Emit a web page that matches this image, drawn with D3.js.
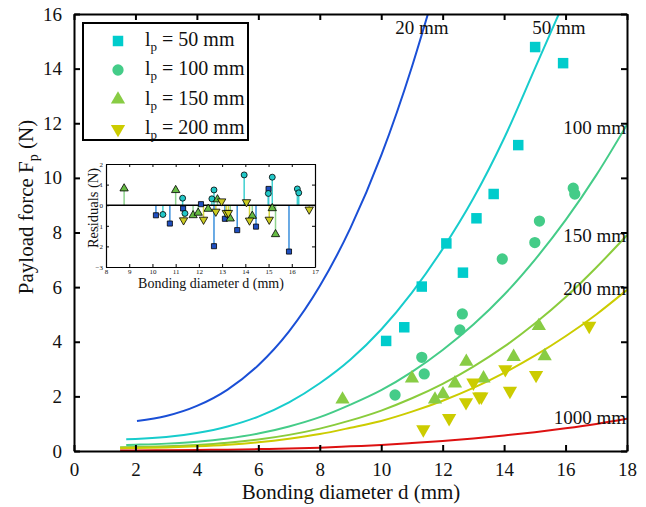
<!DOCTYPE html>
<html><head><meta charset="utf-8">
<script src="https://cdn.jsdelivr.net/npm/d3@7/dist/d3.min.js"></script>
<style>body{margin:0;background:#fff}svg{display:block}text{font-family:"Liberation Serif","Times New Roman",serif;fill:#111}</style>
</head><body><svg id="c" width="646" height="507"></svg>
<script>
// ---------- data ----------
const xTicks = [0,2,4,6,8,10,12,14,16,18];
const yTicks = [0,2,4,6,8,10,12,14,16];
const curveNames = ["20 mm","50 mm","100 mm","150 mm","200 mm","1000 mm"];
const curveColors = ["#1a4fd6","#17cccc","#45cc88","#8acc3c","#cccc00","#dd1111"];
const c20d  = [2.05,3,4,5,6,7,8,9,10,11,11.52];
const c20F  = [1.10,1.28,1.65,2.25,3.14,4.38,6.04,8.17,10.82,14.07,16.0];
const c50d  = [1.7,2,3,4,5,6,7,8,9,10,11,12,13,14,15,15.78];
const c50F  = [0.43,0.44,0.51,0.66,0.90,1.26,1.78,2.48,3.35,4.45,5.8,7.4,9.25,11.45,14.0,16.0];
const c100d = [1.7,2,3,4,5,6,7,8,9,10,11,12,13,14,15,16,17,18];
const c100F = [0.22,0.23,0.27,0.34,0.46,0.64,0.9,1.24,1.7,2.23,2.9,3.7,4.63,5.72,7.0,8.45,10.1,11.95];
const c150d = [1.5,2,3,4,5,6,7,8,9,10,11,12,13,14,15,16,17,18];
const c150F = [0.14,0.15,0.17,0.22,0.30,0.42,0.59,0.82,1.12,1.48,1.93,2.46,3.09,3.82,4.67,5.63,6.72,7.9];
const c200d = [1.5,2,3,4,5,6,7,8,9,10,11,12,13,14,15,16,17,18];
const c200F = [0.105,0.11,0.13,0.17,0.23,0.32,0.45,0.62,0.85,1.1,1.44,1.84,2.31,2.86,3.49,4.2,5.0,5.9];
const c1000d = [1.5,2,3,4,5,6,7,8,9,10,11,12,13,14,15,16,17,18];
const c1000F = [0.02,0.02,0.03,0.04,0.05,0.07,0.09,0.12,0.17,0.22,0.29,0.37,0.46,0.57,0.69,0.83,0.99,1.18];

const legendLabels = ["50 mm","100 mm","150 mm","200 mm"];
const markerColors = ["#00cccc","#44cc88","#88cc44","#cccc00"];
const sq_d  = [10.16,10.75,11.32,12.12,12.66,13.1,13.66,14.46,15.01,15.92];
const sq_F  = [4.03,4.53,6.02,7.6,6.53,8.52,9.41,11.2,14.79,14.2];
const ci_d  = [10.45,11.32,11.4,12.56,12.64,13.94,15.0,15.15,16.25,16.3];
const ci_F  = [2.05,3.43,2.82,4.43,5.02,7.03,7.63,8.42,9.62,9.41];
const tu_d  = [8.74,11.0,11.75,12.01,12.4,12.77,13.33,14.31,15.13,15.32];
const tu_F  = [1.89,2.66,1.89,2.08,2.48,3.27,2.66,3.45,4.58,3.47];
const td_d  = [11.37,12.21,12.76,13.0,13.19,13.26,14.04,14.19,15.04,16.77];
const td_F  = [0.79,1.2,1.78,2.5,1.99,1.99,2.99,2.2,2.78,4.58];

// residuals (inset)
const insetXTicks = [8,9,10,11,12,13,14,15,16,17];
const insetYTicks = [-3,-2,-1,0,1,2];
const rsq_d = [10.15,10.75,11.32,12.09,12.65,13.12,13.65,14.46,15.0,15.88];
const rsq_r = [-0.49,-0.89,-0.16,0.05,-1.99,-0.66,-1.21,-1.04,0.79,-2.25];
const rci_d = [10.45,11.3,11.4,12.56,12.65,13.95,14.99,15.16,16.24,16.3];
const rci_r = [-0.45,0.34,-0.40,0.31,0.74,1.47,0.57,1.36,0.79,0.60];
const rtu_d = [8.78,11.0,11.75,11.97,12.4,12.8,13.35,14.3,15.16,15.3];
const rtu_r = [0.81,0.73,-0.49,-0.37,-0.18,0.28,-0.65,-0.52,-0.15,-1.41];
const rtd_d = [11.34,12.2,12.73,12.98,13.18,13.27,14.05,14.18,15.03,16.75];
const rtd_r = [-0.73,-0.70,-0.31,0.19,-0.37,-0.37,0.15,-0.74,-0.70,-0.21];
const insetStemColors = ["#3a8fdc","#3fd0d0","#8fd48f","#d8d840"];
const insetFillColors = ["#1f4fc0","#22c8c8","#66bb44","#cccc22"];

// ---------- drawing ----------
const svg = d3.select("#c");
const x = d3.scaleLinear().domain([0,18]).range([74,627]);
const y = d3.scaleLinear().domain([0,16]).range([451,14]);

const curves = [[c20d,c20F],[c50d,c50F],[c100d,c100F],[c150d,c150F],[c200d,c200F],[c1000d,c1000F]];
const line = d3.line().x(p=>x(p[0])).y(p=>y(p[1])).curve(d3.curveMonotoneX);
svg.append("clipPath").attr("id","pc").append("rect")
  .attr("x",x(0)).attr("y",y(16)).attr("width",x(18)-x(0)).attr("height",y(0)-y(16));
const gc = svg.append("g").attr("clip-path","url(#pc)");
curves.forEach((c,i)=>{
  gc.append("path").datum(c[0].map((d,j)=>[d,c[1][j]]))
    .attr("d",line).attr("fill","none").attr("stroke",curveColors[i]).attr("stroke-width",2);
});

// data markers
const symTypes = [d3.symbolSquare,d3.symbolCircle,d3.symbolTriangle,d3.symbolTriangle];
const symSizes = [110,100,88,88];
const rot = [0,0,0,180];
const sets = [[sq_d,sq_F],[ci_d,ci_F],[tu_d,tu_F],[td_d,td_F]];
sets.forEach((s,i)=>{
  s[0].forEach((d,j)=>{
    svg.append("path").attr("d",d3.symbol().type(symTypes[i]).size(symSizes[i])())
      .attr("transform",`translate(${x(d)},${y(s[1][j])}) rotate(${rot[i]})`)
      .attr("fill",markerColors[i]);
  });
});

// curve labels
const labelPos = [[422,34,"middle"],[559,34,"middle"],[626,134,"end"],[626,242,"end"],[626,295,"end"],[626,424,"end"]];
curveNames.forEach((n,i)=>{
  svg.append("text").attr("x",labelPos[i][0]).attr("y",labelPos[i][1])
    .attr("text-anchor",labelPos[i][2]).attr("font-size",19).text(n);
});

// axes
function styleAxis(g){
  g.selectAll(".domain").attr("stroke","#000").attr("stroke-width",2);
  g.selectAll(".tick line").attr("stroke","#000").attr("stroke-width",2);
  g.selectAll("text").attr("font-family","Liberation Serif, serif").attr("font-size",19).attr("fill","#111");
}
svg.append("g").attr("transform",`translate(0,${y(0)})`)
  .call(d3.axisBottom(x).tickValues(xTicks).tickSize(-6).tickSizeOuter(0).tickPadding(12).tickFormat(d3.format("d")))
  .call(styleAxis);
svg.append("g").attr("transform",`translate(0,${y(16)})`)
  .call(d3.axisTop(x).tickValues(xTicks).tickSize(-6).tickSizeOuter(0).tickFormat(""))
  .call(styleAxis);
svg.append("g").attr("transform",`translate(${x(0)},0)`)
  .call(d3.axisLeft(y).tickValues(yTicks).tickSize(-6).tickSizeOuter(0).tickPadding(12).tickFormat(d3.format("d")))
  .call(styleAxis);
svg.append("g").attr("transform",`translate(${x(18)},0)`)
  .call(d3.axisRight(y).tickValues(yTicks).tickSize(-6).tickSizeOuter(0).tickFormat(""))
  .call(styleAxis);

// axis titles
svg.append("text").attr("x",351).attr("y",499).attr("text-anchor","middle").attr("font-size",21)
  .text("Bonding diameter d (mm)");
const yl = svg.append("text").attr("transform","translate(33,207) rotate(-90)").attr("text-anchor","middle").attr("font-size",21);
yl.append("tspan").text("Payload force F");
yl.append("tspan").attr("font-size",14).attr("dy",5).text("p");
yl.append("tspan").attr("dy",-5).text(" (N)");

// legend
svg.append("rect").attr("x",83).attr("y",23).attr("width",165).attr("height",117)
  .attr("fill","#fff").attr("stroke","#000").attr("stroke-width",2);
const legY = [41,70,99.5,129];
legendLabels.forEach((l,i)=>{
  svg.append("path").attr("d",d3.symbol().type(symTypes[i]).size(symSizes[i])())
    .attr("transform",`translate(118,${legY[i]}) rotate(${rot[i]})`).attr("fill",markerColors[i]);
  const t = svg.append("text").attr("x",145).attr("y",legY[i]+5).attr("font-size",20);
  t.append("tspan").text("l");
  t.append("tspan").attr("font-size",13).attr("dy",5).text("p");
  t.append("tspan").attr("dy",-5).text(" = "+l);
});

// inset
const ix = d3.scaleLinear().domain([8,17]).range([106,315]);
const iy = d3.scaleLinear().domain([-3,2]).range([267,164]);
svg.append("rect").attr("x",106).attr("y",164).attr("width",209).attr("height",103)
  .attr("fill","#fff");
function styleInset(g){
  g.selectAll(".domain").attr("stroke","#000").attr("stroke-width",1.2);
  g.selectAll(".tick line").attr("stroke","#000").attr("stroke-width",1);
  g.selectAll("text").attr("font-family","Liberation Serif, serif").attr("font-size",7).attr("fill","#111");
}
svg.append("g").attr("transform",`translate(0,${iy(-3)})`)
  .call(d3.axisBottom(ix).tickValues(insetXTicks).tickSize(-3).tickSizeOuter(0).tickPadding(2).tickFormat(d3.format("d")))
  .call(styleInset);
svg.append("g").attr("transform",`translate(0,${iy(2)})`)
  .call(d3.axisTop(ix).tickValues(insetXTicks).tickSize(-3).tickSizeOuter(0).tickFormat(""))
  .call(styleInset);
svg.append("g").attr("transform",`translate(${ix(8)},0)`)
  .call(d3.axisLeft(iy).tickValues(insetYTicks).tickSize(-3).tickSizeOuter(0).tickPadding(3).tickFormat(d3.format("d")))
  .call(styleInset);
svg.append("g").attr("transform",`translate(${ix(17)},0)`)
  .call(d3.axisRight(iy).tickValues(insetYTicks).tickSize(-3).tickSizeOuter(0).tickFormat(""))
  .call(styleInset);

const rsets = [[rsq_d,rsq_r],[rci_d,rci_r],[rtu_d,rtu_r],[rtd_d,rtd_r]];
const isizes = [26,28,30,30];
rsets.forEach((s,i)=>{
  s[0].forEach((d,j)=>{
    svg.append("line").attr("x1",ix(d)).attr("x2",ix(d)).attr("y1",iy(0)).attr("y2",iy(s[1][j]))
      .attr("stroke",insetStemColors[i]).attr("stroke-width",1.5);
  });
});
svg.append("line").attr("x1",ix(8)).attr("x2",ix(17)).attr("y1",iy(0)).attr("y2",iy(0))
  .attr("stroke","#000").attr("stroke-width",1.5);
rsets.forEach((s,i)=>{
  s[0].forEach((d,j)=>{
    svg.append("path").attr("d",d3.symbol().type(symTypes[i]).size(isizes[i])())
      .attr("transform",`translate(${ix(d)},${iy(s[1][j])}) rotate(${rot[i]})`)
      .attr("fill",insetFillColors[i]).attr("stroke","#000").attr("stroke-width",0.8);
  });
});
svg.append("text").attr("x",211).attr("y",288).attr("text-anchor","middle").attr("font-size",14)
  .text("Bonding diameter d (mm)");
svg.append("text").attr("transform","translate(98,208) rotate(-90)").attr("text-anchor","middle").attr("font-size",14.5)
  .text("Residuals (N)");
</script></body></html>
